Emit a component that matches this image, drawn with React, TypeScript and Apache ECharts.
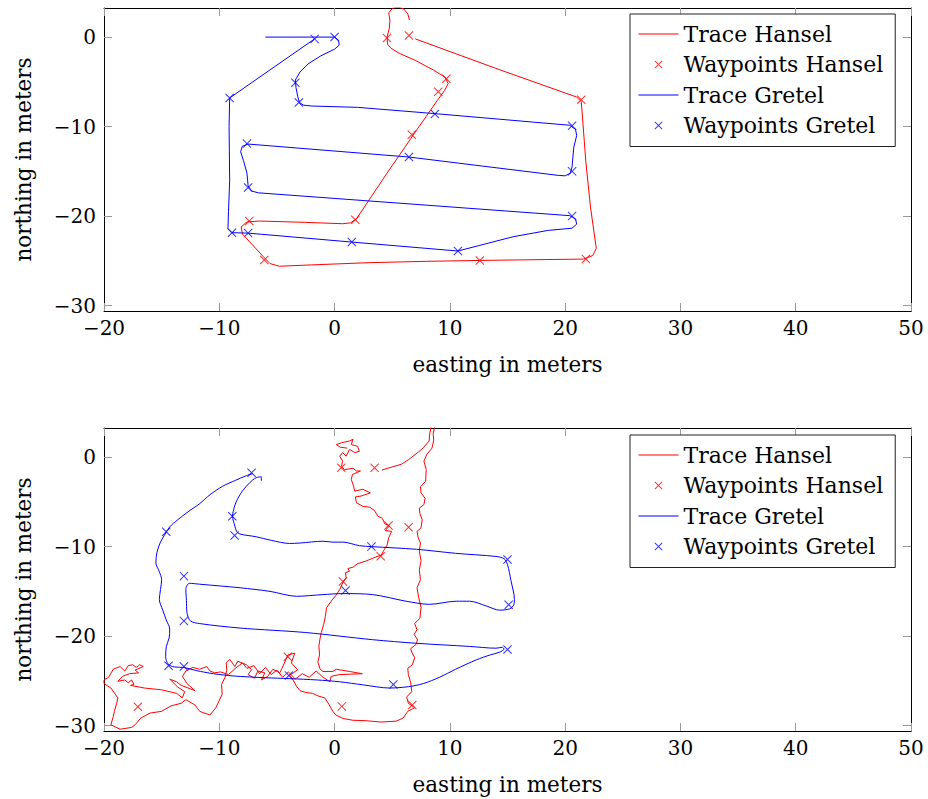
import React, { useEffect, useRef } from "react";
import * as echarts from "echarts";

// ---------- data ----------
const xTicks = [-20, -10, 0, 10, 20, 30, 40, 50];
const yTicks = [-30, -20, -10, 0];
const legendNames = ["Trace Hansel", "Waypoints Hansel", "Trace Gretel", "Waypoints Gretel"];

// top panel
const topHanselTrace: number[][] = [
  [6.5, 1.9], [6.35, 2.6], [6.0, 3.15], [5.5, 3.35], [5.0, 3.2], [4.7, 2.7], [4.8, 1.9], [4.75, 1.0],
  [4.55, 0.0], [4.6, -0.8], [4.9, -1.25], [5.6, -1.8], [7.0, -2.6], [8.6, -3.7], [9.6, -4.5], [9.85, -5.2],
  [9.55, -5.95], [8.9, -7.1], [6.9, -10.8], [4.5, -15.3], [1.9, -20.3], [1.4, -20.75], [0.7, -20.85],
  [-2.5, -20.7], [-6.5, -20.55], [-7.6, -20.65], [-8.1, -21.2], [-8.0, -22.0], [-7.2, -23.1], [-6.2, -24.5],
  [-5.6, -25.3], [-4.8, -25.6], [-2.0, -25.45], [3.0, -25.2], [8.0, -25.05], [12.6, -24.95], [21.6, -24.8],
  [22.4, -24.4], [22.7, -23.6], [22.2, -19.0], [21.8, -14.0], [21.4, -7.2], [21.0, -6.7], [14.0, -3.5], [7.0, -0.2],
];
const topHanselWaypoints: number[][] = [
  [4.54, -0.1], [6.45, 0.18], [9.7, -4.66], [9.0, -6.1], [6.7, -10.9], [1.8, -20.4], [-7.4, -20.55],
  [-6.1, -24.9], [12.6, -24.95], [21.8, -24.8], [21.4, -7.0],
];
const topGretelTrace: number[][] = [
  [-6.0, 0.0], [-1.73, 0.0], [0.0, 0.0], [0.35, -0.35], [0.4, -0.9], [0.0, -1.35], [-1.2, -2.1], [-2.3, -3.0],
  [-3.0, -3.9], [-3.4, -4.8], [-3.35, -5.6], [-3.2, -6.6], [-3.05, -7.3], [-2.7, -7.6], [-2.0, -7.7],
  [2.0, -7.85], [8.7, -8.55], [20.4, -9.85], [20.9, -10.3], [21.0, -11.0], [20.75, -12.3], [20.6, -14.5],
  [20.45, -15.2], [20.0, -15.5], [19.4, -15.45], [6.45, -13.4], [-7.5, -11.95], [-8.0, -12.2], [-8.15, -12.8],
  [-7.9, -13.8], [-7.6, -15.2], [-7.5, -16.6], [-7.2, -17.2], [-6.6, -17.4], [20.4, -19.95], [20.9, -20.3],
  [21.0, -20.9], [20.6, -21.35], [18.5, -21.6], [15.5, -22.3], [12.5, -23.3], [10.7, -23.9], [1.5, -22.9],
  [-7.5, -21.9], [-8.9, -21.85], [-9.25, -21.4], [-9.2, -19.5], [-9.1, -16.0], [-9.15, -10.0], [-9.1, -6.8],
  [-1.73, -0.2],
];
const topGretelWaypoints: number[][] = [
  [0, 0], [-1.73, -0.2], [-3.4, -5.1], [-3.1, -7.3], [8.7, -8.6], [20.6, -9.9], [20.6, -15.0], [6.45, -13.4],
  [-7.6, -11.9], [-7.5, -16.8], [20.6, -20.0], [10.7, -23.9], [1.5, -22.9], [-7.5, -21.9], [-8.9, -21.85],
  [-9.1, -6.8],
];

// bottom panel
const bottomHanselTrace: number[][] = [
  [4.1, -1.45], [5.0, -1.1], [5.8, -0.8], [6.4, -0.3], [6.8, 0.1], [7.3, 0.6], [7.7, 1.05], [8.2, 1.8],
  [8.25, 2.6], [8.4, 3.5], [8.7, 3.5], [8.55, 2.6], [8.6, 1.9], [8.45, 1.0], [8.0, 0.3], [7.75, -0.45],
  [7.95, -1.4], [7.9, -2.7], [7.45, -3.3], [7.5, -4.0], [7.85, -4.6], [7.75, -5.3], [7.35, -5.7], [7.4, -6.3],
  [7.6, -7.0], [7.5, -7.9], [7.15, -8.3], [7.25, -9.0], [7.45, -9.6], [7.35, -10.5], [7.5, -11.6],
  [7.35, -12.6], [7.45, -13.7], [7.15, -14.6], [7.3, -15.7], [7.5, -16.8], [7.4, -18.0], [6.95, -18.6],
  [7.15, -19.3], [6.9, -19.8], [7.2, -20.4], [7.05, -20.95], [6.6, -21.4], [6.7, -21.8], [6.95, -22.4],
  [6.75, -23.2], [6.35, -23.6], [6.4, -24.3], [6.6, -25.2], [6.7, -26.2], [6.25, -26.8], [6.4, -27.5],
  [6.95, -28.0], [6.35, -28.4], [5.95, -29.15], [5.35, -29.5], [4.0, -29.6], [2.75, -29.45], [1.6, -29.4],
  [0.72, -29.2], [0.1, -28.8], [-0.15, -28.4], [-0.5, -27.6], [-0.85, -26.9], [-1.4, -26.7], [-1.9, -26.4],
  [-2.5, -26.3], [-3.0, -26.1], [-3.3, -25.6], [-3.6, -24.9], [-3.9, -24.4],
  [-3.2, -23.75], [-3.75, -23.0], [-3.45, -21.9], [-4.05, -22.1], [-4.35, -23.0], [-4.75, -24.1],
  [-5.35, -23.7], [-5.8, -24.5], [-6.35, -24.9], [-6.05, -24.1], [-6.65, -23.9], [-6.95, -24.7],
  [-7.5, -24.3], [-7.2, -23.75], [-7.65, -23.2], [-8.4, -22.8], [-8.65, -23.4], [-9.1, -22.6],
  [-9.4, -23.0], [-9.35, -23.8], [-9.5, -24.6],
  [-9.8, -25.4], [-9.75, -26.5], [-10.3, -28.0], [-10.8, -28.8], [-11.3, -28.6], [-11.7, -28.4],
  [-12.1, -27.7], [-12.9, -27.1], [-13.3, -27.5], [-14.2, -27.8], [-15.0, -28.4], [-16.0, -28.6],
  [-16.8, -29.15], [-17.3, -29.9], [-17.6, -30.2], [-18.6, -30.4], [-19.4, -29.9], [-19.2, -29.0],
  [-19.1, -28.4], [-18.9, -27.5], [-18.8, -26.9], [-19.4, -25.8], [-20.0, -25.3], [-20.0, -24.9],
  [-19.6, -24.6], [-19.2, -23.7], [-18.8, -23.5], [-18.6, -23.4], [-18.2, -23.9], [-17.9, -23.3],
  [-17.5, -23.2], [-17.2, -23.5], [-16.9, -23.2], [-16.6, -23.4], [-17.3, -23.8], [-17.0, -24.1],
  [-17.8, -24.2], [-18.4, -24.5], [-18.8, -25.05], [-18.2, -24.9], [-17.9, -25.2], [-17.6, -24.9],
  [-17.4, -25.4], [-17.7, -25.5], [-16.5, -25.8], [-15.0, -26.0], [-13.7, -26.4], [-13.2, -26.9],
  [-13.0, -26.2], [-13.6, -25.7], [-14.3, -24.8], [-13.7, -25.1], [-13.3, -25.5], [-12.1, -26.1],
  [-12.8, -25.3], [-13.2, -24.5], [-12.9, -23.9], [-12.3, -23.5], [-11.7, -23.7], [-11.1, -23.4],
  [-10.8, -23.9], [-10.4, -24.1], [-9.9, -24.0],
  [-9.2, -24.3], [-8.6, -23.6], [-8.0, -23.0], [-7.6, -23.6], [-7.0, -23.3], [-6.5, -24.2], [-6.0, -23.5],
  [-5.5, -24.3], [-5.0, -23.8], [-4.5, -24.6], [-4.0, -24.0], [-3.4, -24.8], [-2.8, -24.2], [-2.2, -24.6],
  [-1.6, -23.9], [-1.0, -24.6], [-0.4, -25.1], [-0.3, -24.5], [0.4, -24.3], [2.4, -24.2], [1.3, -23.95],
  [0.15, -23.7], [-0.15, -23.95], [-1.0, -23.95], [-1.25, -23.7],
  [-1.45, -22.9], [-1.3, -22.1], [-1.36, -21.1], [-1.25, -20.2], [-1.15, -19.6], [-0.95, -18.7],
  [-0.8, -17.8], [-0.7, -16.85], [-0.3, -16.1], [0.15, -15.4], [0.45, -14.8], [0.7, -14.05], [1.0, -13.5],
  [0.95, -12.9], [1.3, -12.75], [1.15, -12.45], [1.6, -12.3], [2.0, -11.9], [2.75, -11.6], [3.5, -11.2],
  [4.05, -10.95], [4.25, -10.45], [4.55, -9.85], [4.7, -9.0], [4.95, -8.3], [4.4, -8.2], [4.75, -7.7],
  [4.35, -7.45], [4.15, -6.85], [3.75, -6.6], [3.45, -5.95], [3.05, -5.6], [2.45, -5.5], [1.9, -5.1],
  [1.8, -4.45], [2.3, -4.35], [3.1, -4.0], [2.45, -3.6], [1.75, -3.8], [1.65, -3.25], [1.45, -2.5],
  [1.55, -1.95], [2.25, -1.55], [1.9, -1.55], [1.6, -1.25], [0.85, -1.4], [0.6, -1.0], [0.7, -0.45],
  [0.45, 0.1], [0.7, 0.5], [1.0, 0.1], [1.3, 0.85], [1.75, 0.5], [2.15, 0.65], [2.0, 1.2], [1.45, 1.4],
  [1.6, 2.0], [1.3, 1.8], [0.6, 1.6], [0.15, 1.4], [0.5, 1.1], [1.1, 1.0],
];
const bottomHanselWaypoints: number[][] = [
  [-17.06, -27.9], [0.58, -1.19], [3.47, -1.19], [4.68, -7.64], [6.42, -7.83], [4.0, -11.07],
  [0.72, -13.9], [-4.05, -22.3], [0.63, -27.85], [6.74, -27.7],
];
const bottomGretelTrace: number[][] = [
  [-7.1, -1.85], [-7.7, -2.1], [-8.6, -2.6], [-9.7, -3.25], [-10.8, -4.2], [-11.7, -5.2], [-12.7, -6.1],
  [-13.6, -7.0], [-14.3, -7.8], [-14.7, -8.6], [-15.1, -9.5], [-15.4, -10.6], [-15.5, -11.8], [-15.2, -12.8],
  [-15.0, -13.7], [-15.1, -14.8], [-15.2, -15.9], [-14.9, -17.1], [-14.6, -18.2], [-14.3, -19.2],
  [-14.35, -20.2], [-14.6, -21.2], [-14.65, -22.3], [-14.45, -23.1], [-13.9, -23.45], [-13.07, -23.5],
  [-12.0, -23.85], [-10.5, -24.2], [-8.8, -24.45], [-6.0, -24.65], [-3.9, -24.75], [-1.5, -24.9],
  [0.43, -25.1], [2.5, -25.45], [4.77, -25.8], [6.4, -25.65], [7.7, -25.3], [9.1, -24.6], [10.5, -23.7],
  [12.3, -22.65], [13.5, -22.1], [14.3, -21.8], [14.7, -21.45], [14.55, -21.25], [14.0, -21.35],
  [11.7, -21.15], [7.1, -20.8], [3.3, -20.4], [-2.5, -19.6], [-8.2, -19.1], [-11.7, -18.6], [-12.5, -18.3],
  [-12.8, -17.4], [-12.85, -16.0], [-12.9, -14.8], [-12.6, -14.1], [-11.7, -14.2], [-8.2, -14.6],
  [-5.6, -15.0], [-3.3, -15.55], [-1.0, -15.36], [0.72, -15.25], [3.3, -15.36], [6.2, -16.1], [8.24, -16.45],
  [10.55, -16.1], [11.7, -16.1], [13.2, -16.65], [14.3, -17.1], [15.2, -16.95], [15.55, -16.5], [15.6, -15.9],
  [15.3, -13.8], [15.0, -12.0], [14.7, -11.35], [14.0, -11.1], [10.5, -10.75], [7.1, -10.3], [3.2, -10.0],
  [2.17, -9.9], [0.72, -9.5], [-0.15, -9.5], [-1.0, -9.4], [-3.0, -9.6], [-3.9, -9.65], [-5.5, -9.3],
  [-6.8, -8.9], [-8.2, -8.6], [-8.5, -8.3], [-8.65, -7.7], [-8.85, -6.6], [-8.7, -5.6], [-8.5, -4.9],
  [-8.0, -3.8], [-7.37, -2.87], [-6.8, -2.3], [-6.35, -2.2], [-6.35, -2.65],
];
const bottomGretelWaypoints: number[][] = [
  [-7.2, -1.75], [-8.87, -6.6], [-8.67, -8.76], [-14.6, -8.35], [-13.07, -13.3], [-13.07, -18.3],
  [-14.4, -23.3], [-13.07, -23.4], [-3.96, -24.4], [5.1, -25.4], [15.0, -21.5], [15.1, -16.5],
  [15.0, -11.45], [3.2, -10.0], [0.95, -14.9],
];

// ---------- styling ----------
const RED = "#ff0000";
const BLUE = "#0000ff";
const FONT = "DejaVu Serif";
const TICK_GREY = "#9a9a9a";
// filled thin "x" outline (so the mark is a fill, not a stroke)
const CROSS =
  "path://M0,0.8L0.8,0L5,4.2L9.2,0L10,0.8L5.8,5L10,9.2L9.2,10L5,5.8L0.8,10L0,9.2L4.2,5Z";
const legendColors = [RED, RED, BLUE, BLUE];

const fmt = (v: number) => (v < 0 ? "\u2212" + Math.abs(v) : String(v));

function xAxes(gridIndex: number) {
  const base = {
    gridIndex,
    type: "value" as const,
    min: xTicks[0],
    max: xTicks[xTicks.length - 1],
    interval: 10,
    splitLine: { show: false },
    axisLine: { show: true, onZero: false, lineStyle: { color: "#000", width: 1 } },
    axisTick: { show: true, inside: true, length: 8, lineStyle: { color: TICK_GREY, width: 1 } },
  };
  return [
    {
      ...base,
      position: "bottom",
      axisLabel: { show: true, formatter: fmt, fontFamily: FONT, fontSize: 20, color: "#000", margin: 7 },
      name: "easting in meters",
      nameLocation: "middle",
      nameGap: 42,
      nameTextStyle: { fontFamily: FONT, fontSize: 21.5, color: "#000" },
    },
    { ...base, position: "top", axisLabel: { show: false } },
  ];
}

function yAxes(gridIndex: number) {
  const base = {
    gridIndex,
    type: "value" as const,
    min: -30.6,
    max: 3.25,
    splitLine: { show: false },
    axisLine: { show: true, onZero: false, lineStyle: { color: "#000", width: 1 } },
    axisTick: { show: true, inside: true, length: 8, customValues: yTicks, lineStyle: { color: TICK_GREY, width: 1 } },
  };
  return [
    {
      ...base,
      position: "left",
      axisLabel: {
        show: true, customValues: yTicks, formatter: fmt, fontFamily: FONT, fontSize: 20, color: "#000", margin: 8,
      },
      name: "northing in meters",
      nameLocation: "middle",
      nameGap: 70,
      nameRotate: 90,
      nameTextStyle: { fontFamily: FONT, fontSize: 21.5, color: "#000" },
    },
    { ...base, position: "right", axisLabel: { show: false } },
  ];
}

function panelSeries(axisIdx: number, hT: number[][], hW: number[][], gT: number[][], gW: number[][], smoothG: number | boolean, smoothH: number | boolean) {
  const common = { xAxisIndex: axisIdx, yAxisIndex: axisIdx };
  return [
    {
      ...common, name: legendNames[0], type: "line", data: hT, symbol: "none", showSymbol: false, smooth: smoothH,
      lineStyle: { color: RED, width: 1 }, itemStyle: { color: RED },
    },
    {
      ...common, name: legendNames[1], type: "scatter", data: hW, symbol: CROSS, symbolSize: 9,
      itemStyle: { color: RED, borderWidth: 0 },
    },
    {
      ...common, name: legendNames[2], type: "line", data: gT, symbol: "none", showSymbol: false, smooth: smoothG,
      lineStyle: { color: BLUE, width: 1 }, itemStyle: { color: BLUE },
    },
    {
      ...common, name: legendNames[3], type: "scatter", data: gW, symbol: CROSS, symbolSize: 9,
      itemStyle: { color: BLUE, borderWidth: 0 },
    },
  ];
}

function legendAt(top: number) {
  return {
    show: true,
    orient: "vertical",
    left: 630,
    top,
    data: legendNames.map((name, i) =>
      i % 2 === 0
        ? {
            name,
            itemStyle: { color: "transparent", borderColor: "transparent", borderWidth: 0 },
            lineStyle: { color: legendColors[i], width: 1 },
          }
        : {
            name,
            icon: CROSS,
            itemStyle: { color: legendColors[i], borderWidth: 0 },
          }
    ),
    itemWidth: 40,
    itemHeight: 8,
    itemGap: 6.5,
    padding: [8, 12, 9, 8],
    borderColor: "#222",
    borderWidth: 1,
    backgroundColor: "#fff",
    selectedMode: false,
    lineStyle: { width: 1 },
    textStyle: { fontFamily: FONT, fontSize: 22, lineHeight: 24, color: "#000" },
  };
}

export default function App() {
  const ref = useRef<HTMLDivElement>(null);
  useEffect(() => {
    if (!ref.current) return;
    const chart = echarts.init(ref.current, undefined, { renderer: "svg" });
    chart.setOption({
      animation: false,
      backgroundColor: "#fff",
      grid: [
        { left: 104, top: 8, width: 807, height: 303, containLabel: false },
        { left: 104, top: 428, width: 807, height: 303, containLabel: false },
      ],
      xAxis: [...xAxes(0), ...xAxes(1)],
      yAxis: [...yAxes(0), ...yAxes(1)],
      legend: [legendAt(14), legendAt(435)],
      series: [
        ...panelSeries(0, topHanselTrace, topHanselWaypoints, topGretelTrace, topGretelWaypoints, false, false),
        ...panelSeries(2, bottomHanselTrace, bottomHanselWaypoints, bottomGretelTrace, bottomGretelWaypoints, 0.3, false),
      ],
    } as any);
    return () => chart.dispose();
  }, []);
  return <div ref={ref} style={{ position: "fixed", left: 0, top: 0, width: 928, height: 799 }} />;
}
